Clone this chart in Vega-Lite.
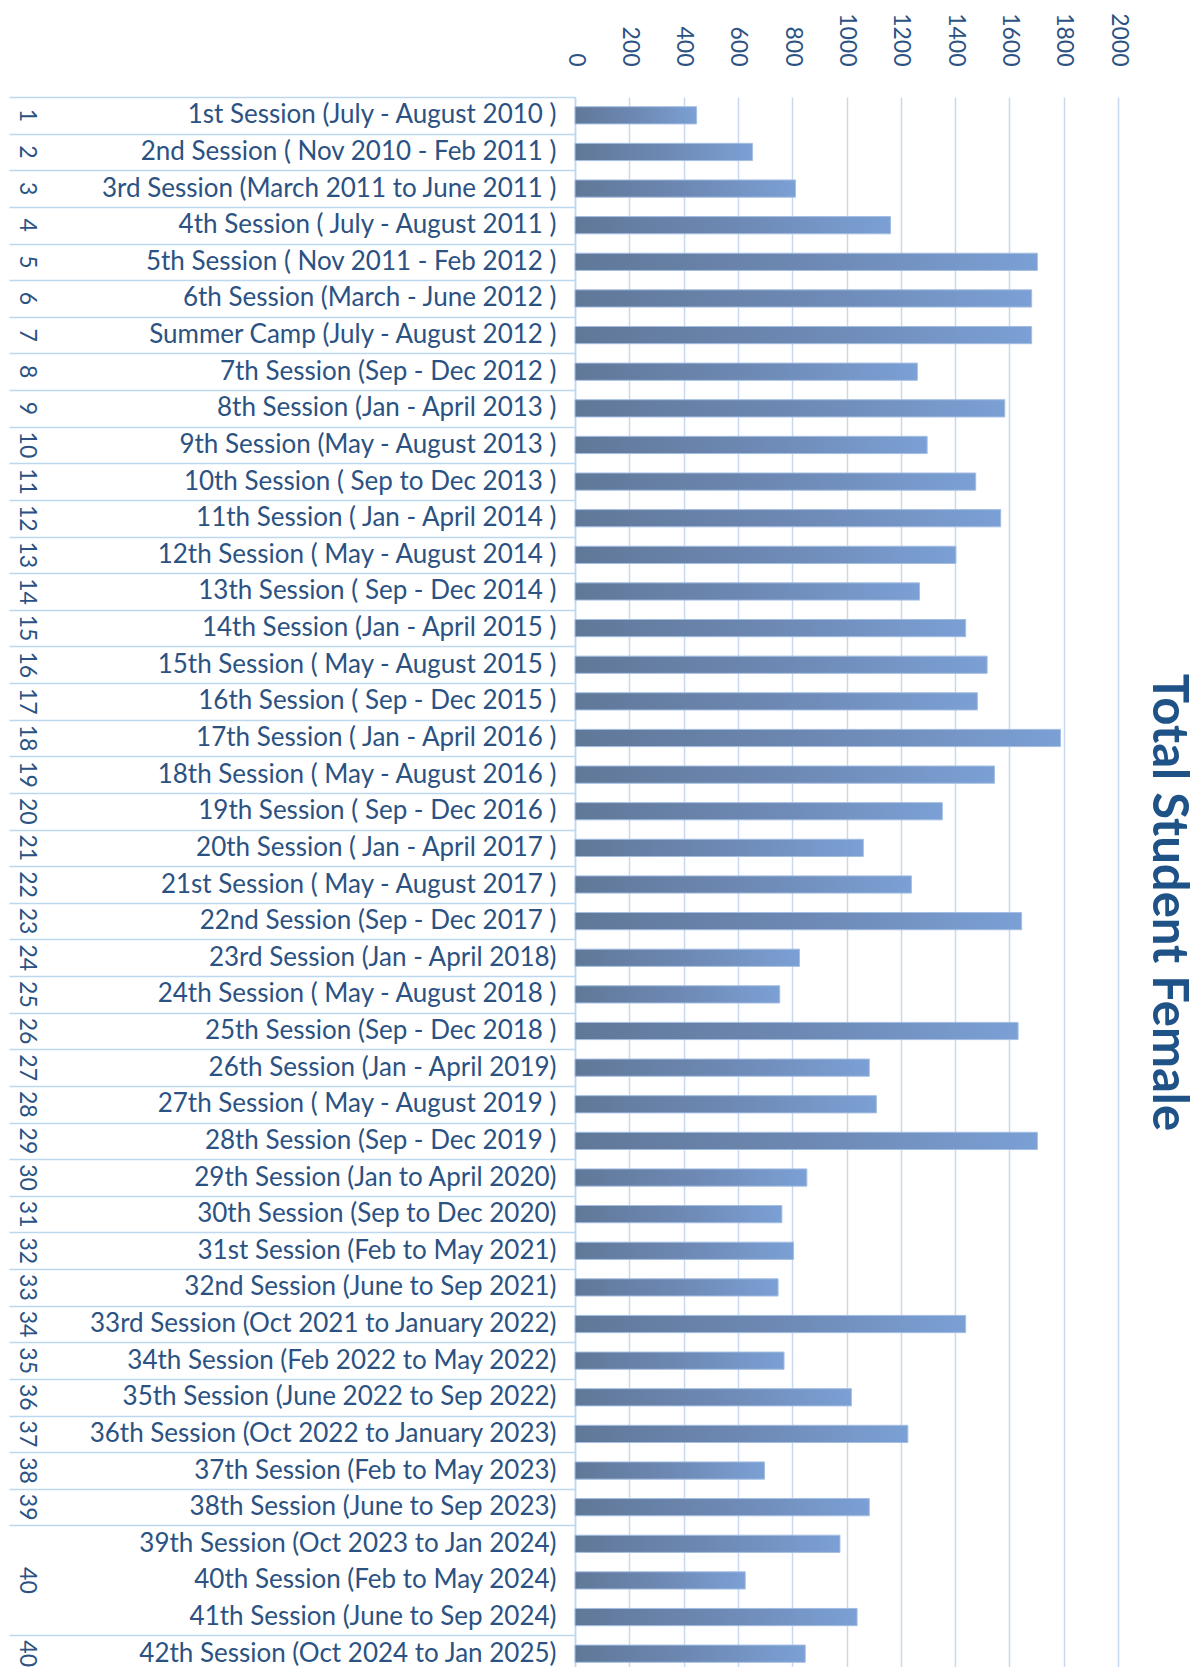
{
  "$schema": "https://vega.github.io/schema/vega-lite/v6.json",
  "width": 543,
  "height": 1575,
  "autosize": "none",
  "padding": {"left": 575, "top": 97, "right": 80, "bottom": 0},
  "background": "white",
  "title": {
    "text": "Total Student Female",
    "orient": "right",
    "anchor": "middle",
    "font": "Lato",
    "fontSize": 49,
    "fontWeight": "bold",
    "color": "#1F5287",
    "offset": 14,
    "dx": 18
  },
  "data": {
    "values": [
      {"no": "1", "label": "1st Session (July - August 2010 )", "female": 448},
      {"no": "2", "label": "2nd Session ( Nov 2010 - Feb 2011 )", "female": 654},
      {"no": "3", "label": "3rd Session (March 2011 to June 2011 )", "female": 812},
      {"no": "4", "label": "4th Session ( July - August 2011 )", "female": 1162},
      {"no": "5", "label": "5th Session ( Nov 2011 - Feb 2012 )", "female": 1703},
      {"no": "6", "label": "6th Session (March - June 2012 )", "female": 1682},
      {"no": "7", "label": "Summer Camp (July - August 2012 )", "female": 1682},
      {"no": "8", "label": "7th Session (Sep - Dec 2012 )", "female": 1261},
      {"no": "9", "label": "8th Session (Jan - April 2013 )", "female": 1583},
      {"no": "10", "label": "9th Session (May - August 2013 )", "female": 1297},
      {"no": "11", "label": "10th Session ( Sep to Dec 2013 )", "female": 1476},
      {"no": "12", "label": "11th Session ( Jan - April 2014 )", "female": 1568},
      {"no": "13", "label": "12th Session ( May - August 2014 )", "female": 1403},
      {"no": "14", "label": "13th Session ( Sep - Dec 2014 )", "female": 1269},
      {"no": "15", "label": "14th Session (Jan - April 2015 )", "female": 1439},
      {"no": "16", "label": "15th Session ( May - August 2015 )", "female": 1518},
      {"no": "17", "label": "16th Session ( Sep - Dec 2015 )", "female": 1482},
      {"no": "18", "label": "17th Session ( Jan - April 2016 )", "female": 1788},
      {"no": "19", "label": "18th Session ( May - August 2016 )", "female": 1545},
      {"no": "20", "label": "19th Session ( Sep - Dec 2016 )", "female": 1353},
      {"no": "21", "label": "20th Session ( Jan - April 2017 )", "female": 1062},
      {"no": "22", "label": "21st Session ( May - August 2017 )", "female": 1239},
      {"no": "23", "label": "22nd Session (Sep - Dec 2017 )", "female": 1645},
      {"no": "24", "label": "23rd Session (Jan - April 2018)", "female": 827},
      {"no": "25", "label": "24th Session ( May - August 2018 )", "female": 754},
      {"no": "26", "label": "25th Session (Sep - Dec 2018 )", "female": 1632},
      {"no": "27", "label": "26th Session (Jan - April 2019)", "female": 1084},
      {"no": "28", "label": "27th Session ( May - August 2019 )", "female": 1110},
      {"no": "29", "label": "28th Session (Sep - Dec 2019 )", "female": 1703},
      {"no": "30", "label": "29th Session (Jan to April 2020)", "female": 854},
      {"no": "31", "label": "30th Session (Sep to Dec 2020)", "female": 762},
      {"no": "32", "label": "31st Session (Feb to May 2021)", "female": 805},
      {"no": "33", "label": "32nd Session (June to Sep 2021)", "female": 748},
      {"no": "34", "label": "33rd Session (Oct 2021 to January 2022)", "female": 1439},
      {"no": "35", "label": "34th Session (Feb 2022 to May 2022)", "female": 770},
      {"no": "36", "label": "35th Session (June 2022 to Sep 2022)", "female": 1018},
      {"no": "37", "label": "36th Session (Oct 2022 to January 2023)", "female": 1226},
      {"no": "38", "label": "37th Session (Feb to May 2023)", "female": 698},
      {"no": "39", "label": "38th Session (June to Sep 2023)", "female": 1084},
      {"no": "40a", "label": "39th Session (Oct 2023 to Jan 2024)", "female": 976},
      {"no": "40", "label": "40th Session (Feb to May 2024)", "female": 627},
      {"no": "40b", "label": "41th Session (June to Sep 2024)", "female": 1039},
      {"no": "40c", "label": "42th Session (Oct 2024 to Jan 2025)", "female": 848}
    ]
  },
  "layer": [
    {
      "mark": {
        "type": "bar",
        "height": {"band": 0.47},
        "color": {
          "gradient": "linear",
          "x1": 0, "y1": 0, "x2": 1, "y2": 0,
          "stops": [
            {"offset": 0, "color": "#607898"},
            {"offset": 0.5, "color": "#6D88B3"},
            {"offset": 1, "color": "#7BA0D5"}
          ]
        },
        "stroke": "#A3BEE3",
        "strokeWidth": 1
      },
      "encoding": {
        "y": {
          "field": "label",
          "type": "nominal",
          "sort": null,
          "scale": {"paddingInner": 0, "paddingOuter": 0},
          "axis": {
            "title": null,
            "domain": false,
            "ticks": false,
            "labelPadding": 19,
            "labelFont": "Lato",
            "labelFontSize": 26,
            "labelColor": "#2B5282",
            "labelLimit": 1000
          }
        },
        "x": {
          "field": "female",
          "type": "quantitative",
          "scale": {"domain": [0, 2000], "nice": false},
          "axis": {
            "orient": "top",
            "title": null,
            "values": [0, 200, 400, 600, 800, 1000, 1200, 1400, 1600, 1800, 2000],
            "format": "d",
            "ticks": false,
            "domain": false,
            "grid": true,
            "gridColor": "#C6D9F0",
            "gridWidth": 1.5,
            "labelAngle": 90,
            "labelAlign": "right",
            "labelBaseline": "middle",
            "labelPadding": 31,
            "labelFont": "Lato",
            "labelFontSize": 23,
            "labelColor": "#2B5282",
            "labelFlush": false
          }
        }
      }
    },
    {
      "mark": {"type": "bar", "opacity": 0},
      "encoding": {
        "y": {
          "field": "no",
          "type": "nominal",
          "sort": null,
          "scale": {"paddingInner": 0, "paddingOuter": 0},
          "axis": {
            "orient": "left",
            "title": null,
            "labels": false,
            "domain": true,
            "domainColor": "#BDD7EE",
            "domainWidth": 1.5,
            "tickBand": "extent",
            "tickSize": 566,
            "tickColor": "#BDD7EE",
            "tickWidth": 1.5,
            "tickOpacity": {
              "condition": {"test": "datum.value == '40a' || datum.value == '40'", "value": 0},
              "value": 1
            }
          }
        },
        "x": {"field": "female", "type": "quantitative"}
      }
    },
    {
      "mark": {"type": "bar", "opacity": 0},
      "encoding": {
        "y": {
          "field": "no",
          "type": "nominal",
          "sort": null,
          "scale": {"paddingInner": 0, "paddingOuter": 0},
          "axis": {
            "orient": "left",
            "title": null,
            "domain": false,
            "ticks": false,
            "offset": 538,
            "labelPadding": 0,
            "labelAngle": 90,
            "labelFont": "Lato",
            "labelFontSize": 23,
            "labelColor": "#2B5282",
            "labelExpr": "datum.label == '40a' || datum.label == '40b' ? '' : (datum.label == '40c' ? '40' : datum.label)"
          }
        },
        "x": {"field": "female", "type": "quantitative"}
      }
    }
  ],
  "resolve": {"scale": {"y": "independent"}, "axis": {"y": "independent"}},
  "config": {"view": {"stroke": null}}
}
